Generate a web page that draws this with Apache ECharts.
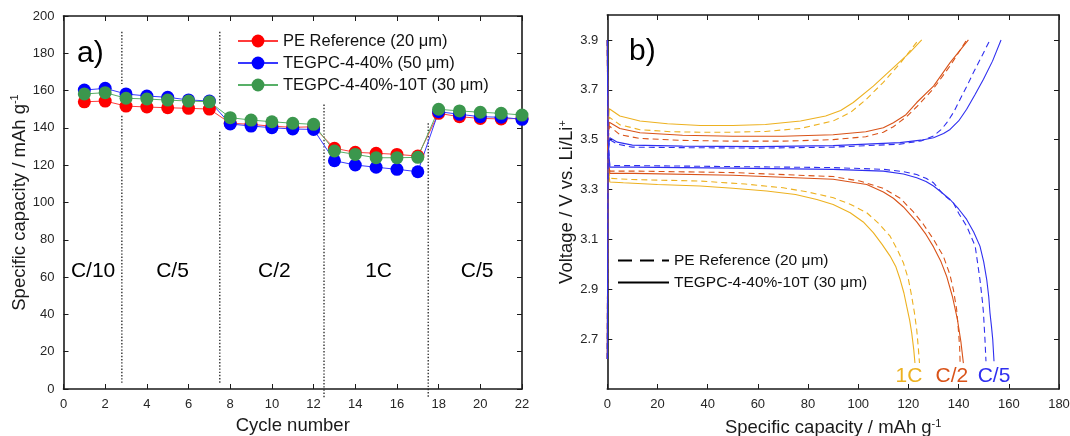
<!DOCTYPE html>
<html>
<head>
<meta charset="utf-8">
<script src="https://cdn.jsdelivr.net/npm/echarts@6/dist/echarts.min.js"></script>
<style>
  html, body { margin: 0; padding: 0; background: #fff; }
  #chart { width: 1070px; height: 436px; }
</style>
</head>
<body>
<div id="chart"></div>
<script>
// ---- a) rate capability: discharge capacity per cycle (mAh/g) ----
const cycles = [1, 2, 3, 4, 5, 6, 7, 8, 9, 10, 11, 12, 13, 14, 15, 16, 17, 18, 19, 20, 21, 22];
const capPE = [154.0, 154.4, 151.7, 151.2, 150.8, 150.5, 150.1, 142.5, 141.9, 140.9, 140.3, 140.6,
               129.1, 126.9, 126.4, 125.8, 124.9, 147.8, 146.0, 145.1, 144.8, 145.1];
const capTEGPC50 = [160.3, 161.2, 158.2, 157.1, 156.4, 155.0, 154.4, 142.1, 141.0, 140.1, 139.4, 139.2,
                    122.4, 120.1, 118.9, 117.8, 116.5, 148.7, 147.3, 146.0, 145.7, 144.6];
const capTEGPC10T = [158.2, 158.9, 155.9, 155.5, 154.9, 154.4, 154.0, 145.5, 144.2, 143.3, 142.5, 141.9,
                     127.6, 125.8, 124.0, 124.0, 124.2, 150.0, 149.1, 148.4, 147.8, 146.9];
const seriesNamesA = ['PE Reference (20 μm)', 'TEGPC-4-40% (50 μm)', 'TEGPC-4-40%-10T (30 μm)'];

// rate steps: boundaries between steps (cycle) and the visible spans of each dotted line (mAh/g)
const rateBoundaries = [2.8, 7.5, 12.5, 17.5];
const boundarySpans = [
  [[191.5, 163.5], [146.5, 3]],
  [[191.5, 152.5], [138, 3]],
  [[152.5, -5]],
  [[142.5, -5]]
];
const rateNames = ['C/10', 'C/5', 'C/2', '1C', 'C/5'];
const rateNameAt = [[1.42, 63], [5.23, 63], [10.12, 63], [15.12, 63], [19.85, 63]];

// ---- b) voltage profiles: [specific capacity (mAh/g), voltage (V)] ----
const chg1C_T = [[0,2.62],[0.3,3.55],[0.8,3.624],[5,3.595],[13,3.575],[24,3.564],[37,3.557],[50,3.557],[63,3.561],[77,3.575],[87,3.595],[93,3.617],[98,3.649],[106,3.715],[114,3.789],[120.5,3.849],[125.3,3.9]];
const chg1C_PE = [[0,2.62],[0.3,3.5],[0.8,3.59],[5,3.56],[13,3.54],[25,3.532],[37,3.53],[50,3.53],[63,3.533],[77,3.545],[90,3.575],[97,3.61],[103,3.66],[110,3.73],[117,3.81],[124,3.9]];
const chgC2_T = [[0,2.62],[0.3,3.5],[0.8,3.57],[5,3.545],[13,3.528],[30,3.518],[50,3.514],[70,3.514],[90,3.52],[103,3.532],[110,3.548],[114,3.568],[119,3.6],[123.3,3.649],[130,3.715],[136.6,3.809],[143.9,3.9]];
const chgC2_PE = [[0,2.62],[0.3,3.48],[0.8,3.555],[5,3.52],[13,3.505],[30,3.497],[50,3.494],[70,3.494],[90,3.5],[103,3.512],[110,3.53],[114,3.552],[119,3.59],[123.3,3.632],[130,3.705],[136.6,3.796],[143.2,3.9]];
const chgC5_T = [[0,2.62],[0.3,3.45],[1,3.508],[4,3.49],[10,3.478],[30,3.474],[60,3.472],[90,3.476],[116.6,3.488],[125,3.498],[130,3.508],[134,3.525],[136.6,3.541],[140,3.575],[143.2,3.622],[146.5,3.68],[149.9,3.742],[153.5,3.815],[156.9,3.9]];
const chgC5_PE = [[0,2.62],[0.3,3.45],[1,3.5],[4,3.482],[10,3.47],[30,3.468],[60,3.466],[90,3.47],[116.6,3.482],[125,3.495],[130,3.515],[133,3.54],[135.3,3.568],[138,3.61],[140.6,3.662],[143.3,3.715],[145.9,3.769],[149.5,3.84],[152.5,3.9]];

const dis1C_T = [[0,3.9],[0.3,3.4],[1,3.33],[6.4,3.327],[20,3.32],[37,3.314],[50,3.305],[63.5,3.294],[75,3.28],[83.5,3.26],[90,3.24],[96.8,3.207],[102,3.17],[106,3.127],[109.5,3.08],[112.7,3.033],[115,2.99],[116.7,2.939],[118.2,2.885],[119.3,2.832],[120.5,2.775],[121.3,2.725],[122.1,2.66],[122.6,2.604]];
const dis1C_PE = [[0,3.9],[0.3,3.42],[1,3.345],[10,3.34],[37,3.334],[55,3.322],[70.1,3.307],[80,3.29],[90.1,3.267],[97,3.24],[103.4,3.207],[108,3.165],[112.7,3.113],[115.5,3.06],[118,3.006],[120,2.94],[121.3,2.872],[122.4,2.805],[123.3,2.738],[123.9,2.67],[124.4,2.604]];
const disC2_T = [[0,3.9],[0.3,3.45],[1,3.365],[10.4,3.365],[50,3.357],[90,3.341],[103.4,3.32],[110,3.29],[114,3.265],[118,3.23],[123.3,3.17],[127,3.12],[130,3.07],[133,3.01],[135.3,2.95],[137.5,2.872],[139.5,2.78],[140.9,2.69],[141.9,2.604]];
const disC2_PE = [[0,3.9],[0.3,3.46],[1,3.374],[10,3.374],[50,3.368],[90,3.352],[100.6,3.334],[110,3.305],[116.7,3.265],[122,3.21],[126,3.16],[130,3.1],[133.9,3.033],[136.5,2.96],[137.9,2.899],[139.2,2.82],[139.9,2.738],[140.4,2.67],[140.6,2.604]];
const disC5_T = [[0,3.9],[0.3,3.5],[1,3.39],[10.4,3.39],[50,3.386],[90,3.381],[110,3.374],[118,3.362],[123.3,3.347],[127,3.332],[130,3.314],[133,3.29],[136.6,3.26],[140,3.222],[143.2,3.18],[146,3.13],[148.5,3.073],[150,3.01],[151.2,2.939],[152,2.87],[152.5,2.805],[153.1,2.75],[153.6,2.698],[154.1,2.611]];
const disC5_PE = [[0,3.9],[0.3,3.5],[1,3.396],[10,3.396],[50,3.392],[90,3.388],[110,3.381],[118,3.372],[123.3,3.36],[127,3.345],[130,3.327],[133.9,3.28],[137.9,3.247],[140,3.205],[143.2,3.153],[146.6,3.073],[148.5,2.939],[149.5,2.85],[149.9,2.805],[150.5,2.698],[150.9,2.611]];

const voltageTicks = [2.7, 2.9, 3.1, 3.3, 3.5, 3.7, 3.9];
const keyTextB = { keyDashed: 'PE Reference (20 μm)', keySolid: 'TEGPC-4-40%-10T (30 μm)' };
const rateLabelsB = ['1C', 'C/2', 'C/5'];
const rateLabelAtB = [[120.2, 2.553], [137.3, 2.553], [154.1, 2.553]];

// ---- styling ----
const FONT = '"Liberation Sans", Arial, Helvetica, sans-serif';
const AX = '#1a1a1a';
const C_1C = '#EDB120', C_C2 = '#D95319', C_C5 = '#2f2ff0';
const DASH = [6, 4];

function frameAxis(opts) {
  return Object.assign({
    type: 'value',
    axisLine: { show: true, onZero: false, lineStyle: { color: AX, width: 1.6 } },
    axisTick: { show: true, inside: true, length: 5, lineStyle: { color: AX, width: 1 } },
    axisLabel: { show: true, color: '#262626', fontSize: 13, margin: 9, fontFamily: FONT },
    splitLine: { show: false },
    nameTextStyle: { color: '#1a1a1a', fontSize: 18.5, fontFamily: FONT,
      rich: { sup: { fontSize: 11, fontFamily: FONT, color: '#1a1a1a', verticalAlign: 'top', lineHeight: 12 } } }
  }, opts);
}
function mirror(o) {
  o.axisLabel = Object.assign({}, o.axisLabel, { show: false });
  o.name = '';
  return o;
}

const series = [];

// dotted step boundaries
rateBoundaries.forEach((x, i) => {
  boundarySpans[i].forEach(span => {
    series.push({
      type: 'line', xAxisIndex: 0, yAxisIndex: 0, silent: true, clip: false,
      symbol: 'none', z: 1,
      lineStyle: { color: '#222', width: 1.3, type: [1.4, 1.8] },
      data: [[x, span[0]], [x, span[1]]]
    });
  });
});

// capacity vs cycle series
const aSets = [
  { name: seriesNamesA[0], data: capPE, mk: '#ff0000', ln: '#ff3b3b' },
  { name: seriesNamesA[1], data: capTEGPC50, mk: '#0000ff', ln: '#3838ff' },
  { name: seriesNamesA[2], data: capTEGPC10T, mk: '#3b974d', ln: '#58b068' }
];
aSets.forEach(s => {
  series.push({
    type: 'line', name: s.name, xAxisIndex: 0, yAxisIndex: 0, z: 3,
    symbol: 'circle', symbolSize: 13,
    itemStyle: { color: s.mk },
    lineStyle: { color: s.ln, width: 1 },
    data: cycles.map((c, i) => [c, s.data[i]])
  });
});

// step names
series.push({
  type: 'scatter', xAxisIndex: 0, yAxisIndex: 0, silent: true, symbolSize: 1,
  itemStyle: { color: 'rgba(0,0,0,0)', opacity: 1 },
  label: { show: true, position: 'inside', formatter: p => p.name, color: '#000', fontSize: 21, fontFamily: FONT },
  data: rateNames.map((n, i) => ({ name: n, value: rateNameAt[i] }))
});

// voltage profiles
const bSets = [
  [chg1C_PE, C_1C, true], [chg1C_T, C_1C, false], [dis1C_PE, C_1C, true], [dis1C_T, C_1C, false],
  [chgC2_PE, C_C2, true], [chgC2_T, C_C2, false], [disC2_PE, C_C2, true], [disC2_T, C_C2, false],
  [chgC5_PE, C_C5, true], [chgC5_T, C_C5, false], [disC5_PE, C_C5, true], [disC5_T, C_C5, false]
];
bSets.forEach(([d, col, dashed]) => {
  series.push({
    type: 'line', xAxisIndex: 2, yAxisIndex: 2, symbol: 'none', silent: true,
    lineStyle: { color: col, width: 1.1, type: dashed ? DASH : 'solid' },
    data: d
  });
});

// line-style key for b)
series.push({
  type: 'line', name: 'keyDashed', xAxisIndex: 2, yAxisIndex: 2, symbol: 'none', data: [],
  itemStyle: { color: '#000' }, lineStyle: { color: '#000', width: 3, type: [14, 8] }
});
series.push({
  type: 'line', name: 'keySolid', xAxisIndex: 2, yAxisIndex: 2, symbol: 'none', data: [],
  itemStyle: { color: '#000' }, lineStyle: { color: '#000', width: 3, type: 'solid' }
});

// C-rate names at curve ends
const rateCols = [C_1C, C_C2, C_C5];
series.push({
  type: 'scatter', xAxisIndex: 2, yAxisIndex: 2, silent: true, symbolSize: 1,
  itemStyle: { color: 'rgba(0,0,0,0)', opacity: 1 },
  label: { show: true, position: 'inside', formatter: p => p.name, fontSize: 21, fontFamily: FONT },
  data: rateLabelsB.map((n, i) => ({ name: n, value: rateLabelAtB[i], label: { color: rateCols[i] } }))
});

const option = {
  animation: false,
  backgroundColor: '#fff',
  textStyle: { fontFamily: FONT },
  grid: [
    { left: 63.5, top: 16, width: 458.5, height: 373, outerBoundsMode: 'none', containLabel: false },
    { left: 607.3, top: 15, width: 451.7, height: 374, outerBoundsMode: 'none', containLabel: false }
  ],
  legend: [
    {
      data: seriesNamesA, orient: 'vertical', left: 237, top: 32.5, padding: 0,
      itemWidth: 40, itemHeight: 16, itemGap: 5,
      textStyle: { fontSize: 16.5, color: '#111', fontFamily: FONT },
      selectedMode: false
    },
    {
      data: ['keyDashed', 'keySolid'], orient: 'vertical', left: 617, top: 252.5, padding: 0,
      itemWidth: 51, itemHeight: 14, itemGap: 6,
      formatter: n => keyTextB[n],
      itemStyle: { opacity: 0 },
      textStyle: { fontSize: 15.5, color: '#111', fontFamily: FONT },
      selectedMode: false
    }
  ],
  xAxis: [
    frameAxis({ gridIndex: 0, min: 0, max: 22, interval: 2, position: 'bottom',
      name: 'Cycle number', nameLocation: 'middle', nameGap: 27 }),
    mirror(frameAxis({ gridIndex: 0, min: 0, max: 22, interval: 2, position: 'top' })),
    frameAxis({ gridIndex: 1, min: 0, max: 180, interval: 20, position: 'bottom',
      name: 'Specific capacity / mAh g{sup|-1}', nameLocation: 'middle', nameGap: 29 }),
    mirror(frameAxis({ gridIndex: 1, min: 0, max: 180, interval: 20, position: 'top' }))
  ],
  yAxis: [
    frameAxis({ gridIndex: 0, min: 0, max: 200, interval: 20, position: 'left',
      name: 'Specific capacity / mAh g{sup|-1}', nameLocation: 'middle', nameGap: 33 }),
    mirror(frameAxis({ gridIndex: 0, min: 0, max: 200, interval: 20, position: 'right' })),
    frameAxis({ gridIndex: 1, min: 2.5, max: 4.0, position: 'left',
      axisTick: { show: true, inside: true, length: 5, lineStyle: { color: AX, width: 1 }, customValues: voltageTicks },
      axisLabel: { show: true, color: '#262626', fontSize: 13, margin: 9, fontFamily: FONT, customValues: voltageTicks,
        formatter: v => v.toFixed(1) },
      name: 'Voltage / V vs. Li/Li{sup|+}', nameLocation: 'middle', nameGap: 30 }),
    mirror(frameAxis({ gridIndex: 1, min: 2.5, max: 4.0, position: 'right',
      axisTick: { show: true, inside: true, length: 5, lineStyle: { color: AX, width: 1 }, customValues: voltageTicks },
      axisLabel: { show: false, customValues: voltageTicks } }))
  ],
  graphic: [
    { type: 'text', left: 77, top: 39, style: { text: 'a)', fontSize: 30, fontFamily: FONT, fill: '#000' } },
    { type: 'text', left: 629, top: 37, style: { text: 'b)', fontSize: 30, fontFamily: FONT, fill: '#000' } }
  ],
  series: series
};

const chart = echarts.init(document.getElementById('chart'), null, { renderer: 'canvas' });
chart.setOption(option);
</script>
</body>
</html>
